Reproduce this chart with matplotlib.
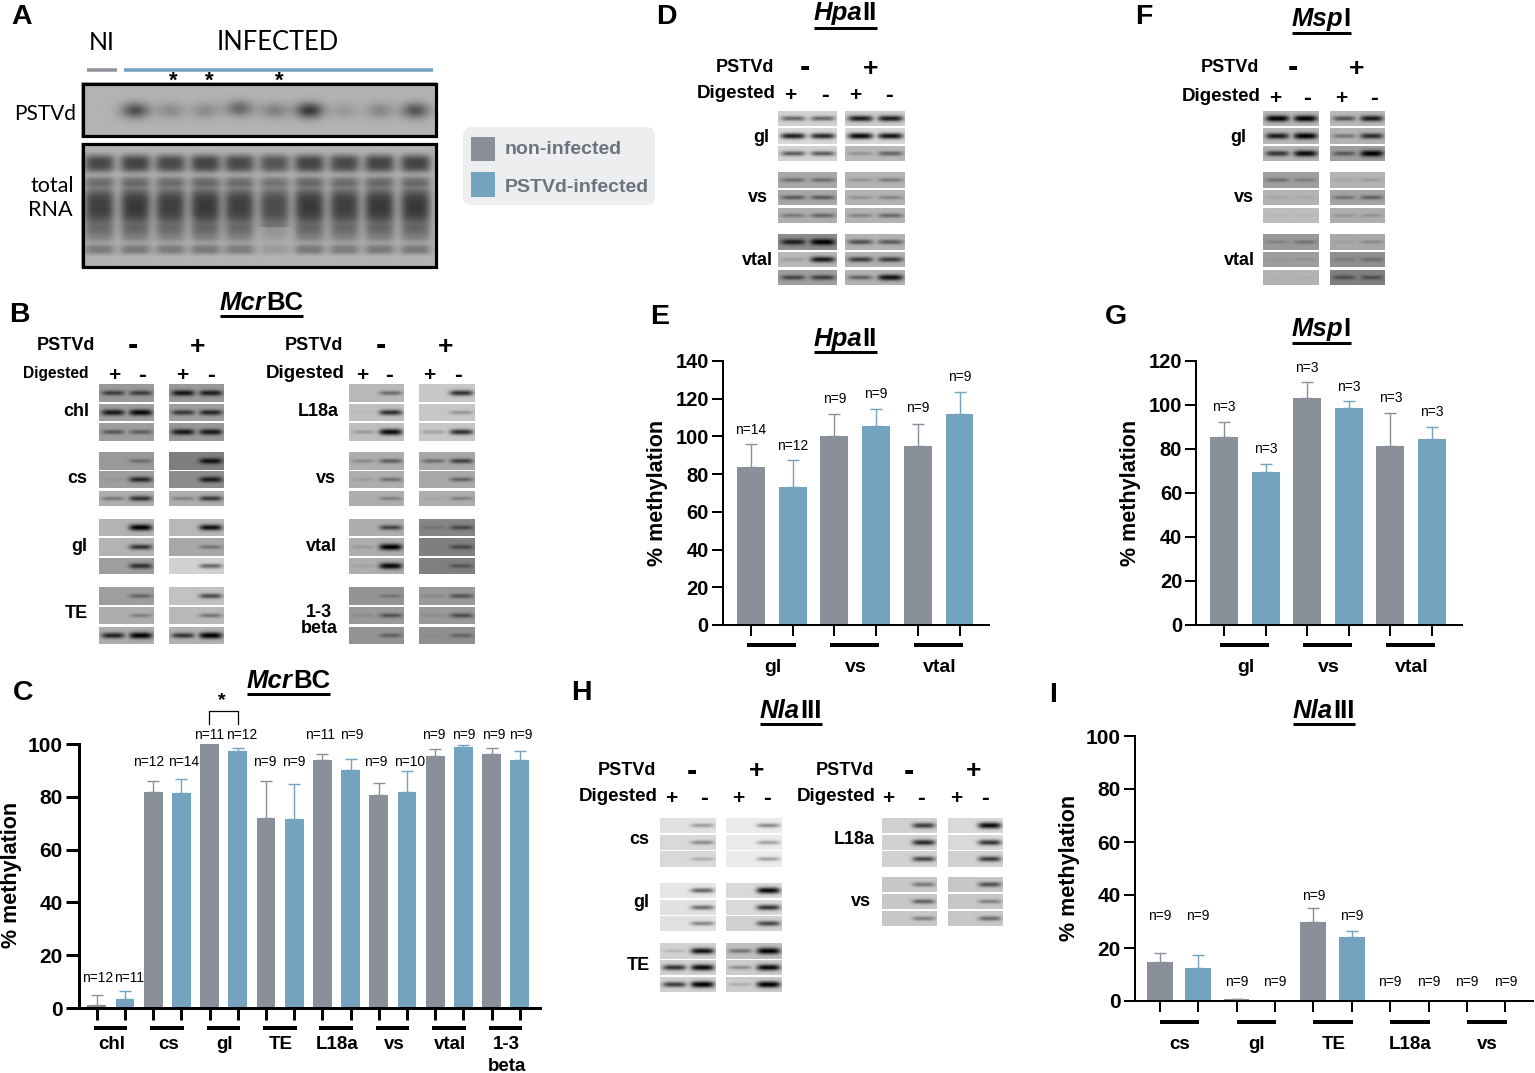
import numpy as np
import matplotlib
matplotlib.use("Agg")
import matplotlib.pyplot as plt
from matplotlib.patches import FancyBboxPatch, Rectangle

W, H = 1535, 1073
GREY = "#8a9099"
BLUE = "#73a3bf"
SANS = ["Liberation Sans", "DejaVu Sans"]
NARROW = ["Liberation Sans Narrow", "Liberation Sans", "DejaVu Sans"]

# --- bar panels: means, upper errors, n labels (height of label in data units)
c_groups = ["chl", "cs", "gl", "TE", "L18a", "vs", "vtal", "1-3\nbeta"]
c_grey = [1.2, 81.8, 100, 72, 93.8, 80.5, 95.5, 96.3]
c_blue = [3.5, 81.6, 97.2, 71.5, 90, 82, 99, 94]
c_grey_err = [3.8, 4, 0, 14, 2.4, 4.8, 2.5, 2.2]
c_blue_err = [3, 5.2, 1.3, 13.2, 4.2, 7.8, 0.8, 3.2]
c_n = ["n=12", "n=11", "n=12", "n=14", "n=11", "n=12", "n=9", "n=9",
       "n=11", "n=9", "n=9", "n=10", "n=9", "n=9", "n=9", "n=9"]
c_n_y = [11.3, 11.3, 93.3, 93.3, 103.4, 103.4, 93.3, 93.3,
         103.4, 103.4, 93.3, 93.3, 103.4, 103.4, 103.4, 103.4]
c_n_dx = [1, 4, -5, 2, -1, 4, -1, 0, -2, 1.5, -3, 3, -1, 0, 2, 0.5]

e_groups = ["gl", "vs", "vtal"]
e_grey = [84, 100, 95]
e_blue = [73, 105.3, 112]
e_grey_err = [12, 11.8, 11.7]
e_blue_err = [14.3, 9, 11.3]
e_n = ["n=14", "n=12", "n=9", "n=9", "n=9", "n=9"]
e_n_y = [103.4, 94.9, 119.8, 122.5, 115, 131.5]

g_groups = ["gl", "vs", "vtal"]
g_grey = [85.5, 103, 81.2]
g_blue = [69.5, 98.7, 84.5]
g_grey_err = [6.8, 7.5, 15.1]
g_blue_err = [3.8, 3.3, 5.7]
g_n = ["n=3"] * 6
g_n_y = [99, 79.9, 117, 108, 103, 96.7]

i_groups = ["cs", "gl", "TE", "L18a", "vs"]
i_grey = [14.8, 0.6, 30, 0, 0]
i_blue = [12.6, 0, 24, 0, 0]
i_grey_err = [3.2, 0, 5, 0, 0]
i_blue_err = [4.7, 0, 2.5, 0, 0]
i_n = ["n=9"] * 10
i_n_y = [32.2, 32.2, 7, 7, 39.7, 32.2, 7, 7, 7, 7]

# --- gel strips: each row is [background, band in "+" lane, band in "-" lane]
b_chl = [[[.60, .6, .6], [.62, .85, .95], [.62, .45, .4]], [[.6, .85, .8], [.62, .65, .75], [.6, .85, .85]]]
b_cs = [[[.60, 0, .3], [.62, .06, .75], [.68, .3, .7]], [[.5, .02, .85], [.55, 0, .8], [.68, .25, .65]]]
b_gl = [[[.70, 0, 1], [.70, 0, .7], [.62, 0, .7]], [[.72, 0, .9], [.66, 0, .3], [.82, 0, .5]]]
b_te = [[[.62, 0, .35], [.68, 0, .25], [.68, .8, 1]], [[.76, 0, .6], [.72, 0, .35], [.70, .7, 1]]]
b_l18a = [[[.72, 0, .4], [.75, .03, .75], [.75, .2, .95]], [[.78, 0, .75], [.78, 0, .25], [.78, .2, .75]]]
b_vs = [[[.68, .2, .45], [.68, .1, .35], [.68, 0, .25]], [[.66, .35, .6], [.66, 0, .4], [.68, .05, .25]]]
b_vtal = [[[.68, 0, .6], [.68, .12, 1], [.68, .07, .95]], [[.52, .15, .45], [.50, .03, .45], [.50, 0, .35]]]
b_beta = [[[.58, .03, .22], [.60, .1, .45], [.58, 0, .35]], [[.60, .12, .45], [.60, .1, .5], [.56, .03, .3]]]

d_gl = [[[.82, .5, .5], [.85, .85, .8], [.82, .55, .55]], [[.8, .85, .85], [.85, .95, .9], [.72, .2, .45]]]
d_vs = [[[.66, .35, .35], [.66, .45, .45], [.68, .3, .4]], [[.70, .18, .3], [.70, .18, .25], [.70, .25, .4]]]
d_vtal = [[[.55, .8, 1], [.72, .15, .85], [.62, .55, .6]], [[.70, .55, .5], [.70, .65, .65], [.70, .45, .9]]]

f_gl = [[[.72, 1, 1], [.72, .85, 1], [.70, .7, .95]], [[.72, .55, .85], [.70, .35, .75], [.62, .45, 1]]]
f_vs = [[[.62, .3, .2], [.70, .08, .06], [.74, .04, .04]], [[.70, .08, .12], [.64, .3, .4], [.68, .15, .15]]]
f_vtal = [[[.60, .15, .25], [.62, .06, .08], [.70, .02, .03]], [[.66, .06, .18], [.56, .15, .25], [.50, .4, .4]]]

h_cs = [[[.88, 0, .3], [.85, 0, .35], [.85, 0, .2]], [[.92, 0, .4], [.92, 0, .3], [.92, 0, .3]]]
h_gl = [[[.9, 0, .55], [.88, 0, .5], [.88, 0, .4]], [[.85, 0, .95], [.85, 0, .75], [.82, 0, .65]]]
h_te = [[[.82, .12, .9], [.82, .75, .95], [.82, .7, 1]], [[.75, .4, 1], [.8, .3, .95], [.8, .15, 1]]]
h_l18a = [[[.82, 0, .7], [.82, 0, .8], [.82, 0, .65]], [[.85, 0, .95], [.85, 0, .75], [.82, 0, .7]]]
h_vs = [[[.78, 0, .4], [.78, 0, .5], [.78, 0, .35]], [[.78, 0, .6], [.78, 0, .35], [.78, 0, .45]]]

# --- northern blot
lane_x = [99, 135, 170, 205, 239, 274, 309, 344, 379, 415]
pstvd_signal = [0, .55, .22, .22, .42, .28, .68, .14, .24, .52]
rna_load = [.95, 1, .95, 1, .95, .85, 1, .95, 1, 1]

canvas = np.ones((H, W))


def paint_strip(x0, x1, y0, y1, row):
    x0, x1, y0, y1 = int(round(x0)), int(round(x1)), int(round(y0)), int(round(y1))
    bg, plus, minus = row
    X, Y = np.meshgrid(np.arange(x0, x1), np.arange(y0, y1))
    w = x1 - x0
    ym = (y0 + y1) / 2 - 0.5
    dark = np.zeros_like(X, dtype=float)
    for frac, d in ((.25, plus), (.75, minus)):
        if d <= 0:
            continue
        sx = np.exp(-(((X - (x0 + frac * w)) / (0.21 * w)) ** 4))
        sy = np.exp(-(((Y - ym) / (1.6 + 1.6 * d)) ** 2))
        dark = np.maximum(dark, d * sx * sy)
    canvas[y0:y1, x0:x1] = bg * (1 - dark)


def paint_gel(blocks, rows, data):
    for (bx0, bx1), block in zip(blocks, data):
        for (ry0, ry1), row in zip(rows, block):
            paint_strip(bx0, bx1, ry0, ry1, row)


# panel B
b_left = [(98.7, 154), (169, 224)]
b_right = [(349, 404.3), (419.3, 474.7)]
b_r1 = [(384, 401.7), (403.7, 421), (423, 440.7)]
b_r2 = [(452.3, 470), (471, 488.3), (491, 506.3)]
b_r3 = [(518.7, 536), (538.3, 555.7), (558.3, 573.7)]
b_r4 = [(587, 605), (606.7, 624.3), (627, 644.3)]
for rows, l, r in ((b_r1, b_chl, b_l18a), (b_r2, b_cs, b_vs), (b_r3, b_gl, b_vtal), (b_r4, b_te, b_beta)):
    paint_gel(b_left, rows, l)
    paint_gel(b_right, rows, r)

# panels D and F
top_r1 = [(110.7, 126), (128.3, 143.7), (146, 161)]
top_r2 = [(172.3, 187.7), (190, 205.3), (208.3, 223.3)]
top_r3 = [(234.3, 250), (252, 267.3), (270, 285)]
d_blocks = [(777.8, 837), (845, 905)]
f_blocks = [(1263.4, 1318.6), (1329.6, 1384.8)]
for rows, d, f in ((top_r1, d_gl, f_gl), (top_r2, d_vs, f_vs), (top_r3, d_vtal, f_vtal)):
    paint_gel(d_blocks, rows, d)
    paint_gel(f_blocks, rows, f)

# panel H
h_left = [(660.3, 715.7), (726.3, 781.7)]
h_right = [(882, 937), (947.7, 1003)]
h_r1 = [(818, 833.3), (834.7, 850), (851.3, 866.7)]
h_r2 = [(883.3, 898.3), (900, 915), (916, 931)]
h_r3 = [(943.3, 958.7), (960, 975.3), (976.7, 992)]
h_r4 = [(876.7, 892), (893.7, 909), (910.7, 926)]
paint_gel(h_left, h_r1, h_cs)
paint_gel(h_left, h_r2, h_gl)
paint_gel(h_left, h_r3, h_te)
paint_gel(h_right, h_r1, h_l18a)
paint_gel(h_right, h_r4, h_vs)

# panel A blot
X, Y = np.meshgrid(np.arange(81, 437), np.arange(82, 138))
blot = np.full(X.shape, .70)
for lx, s in zip(lane_x, pstvd_signal):
    yc = 110 if lx != 239 else 108
    blot *= 1 - s * np.exp(-((X - lx) / 14.0) ** 2 - ((Y - yc) / 8.0) ** 2)
canvas[82:138, 81:437] = blot

X, Y = np.meshgrid(np.arange(81, 437), np.arange(143, 268))
rna_bands = [(163, 9, .62), (181, 5, .3), (206, 20, .68), (233, 9, .3), (249, 5, .32)]
dark = np.zeros(X.shape)
for lx, load in zip(lane_x, rna_load):
    env = np.exp(-(np.abs(X - lx) / 15.5) ** 4) * load
    prof = np.zeros(X.shape)
    for yc, hh, depth in rna_bands:
        prof += depth * np.exp(-(np.abs(Y - yc) / hh) ** 3)
    if lx == 274:
        prof *= 1 - .5 * (Y > 226)
    dark += env * prof
canvas[143:268, 81:437] = .70 * (1 - np.clip(dark, 0, .78))

fig = plt.figure(figsize=(W / 100, H / 100), dpi=100)
ov = fig.add_axes([0, 0, 1, 1])
ov.imshow(canvas, cmap="gray", vmin=0, vmax=1, extent=(0, W, H, 0), interpolation="nearest", aspect="auto")
ov.set_xlim(0, W)
ov.set_ylim(H, 0)
ov.axis("off")


def txt(x, y, s, size=11, weight="bold", family=SANS, ha="center", va="center", **kw):
    return ov.text(x, y + 1.5, s, fontsize=size, fontweight=weight, family=family, ha=ha, va=va, **kw)


def px_line(x0, x1, y0, y1, lw_px, color="black"):
    ov.plot([x0, x1], [y0, y1], color=color, lw=lw_px * .72, solid_capstyle="butt")


def title(x, base, ital, rest, under, size, family):
    t = ov.text(x, base, ital, fontsize=size, fontweight="bold", fontstyle="italic",
                family=family, ha="left", va="baseline")
    x1 = t.get_window_extent(fig.canvas.get_renderer()).x1
    t2 = ov.text(x1, base, rest, fontsize=size, fontweight="bold", family=family, ha="left", va="baseline")
    x2 = t2.get_window_extent(fig.canvas.get_renderer()).x1
    px_line(x, x2, under, under, 3)


def header(xr1, y1, xm, xp, xr2, y2, marks, size=13, size2=13.5):
    txt(xr1, y1, "PSTVd", size=size, ha="right")
    txt(xm, y1 + 1, "-", size=22)
    txt(xp, y1 + 1, "+", size=19)
    txt(xr2, y2, "Digested", size=size2, ha="right")
    for mx, m in zip(marks, "+-+-"):
        txt(mx, y2 + 2, m, size=15 if m == "+" else 17)


def bar_panel(left, right, top, bottom, first, step, ymax, yticks, groups, grey, blue, grey_err, blue_err,
              n_labels, n_y, sw, tick_y, tick_x, tick_size, line_y, line_off, label_y, label_size, n_dx=None):
    ax = fig.add_axes([left / W, 1 - bottom / H, (right - left) / W, (bottom - top) / H])
    ax.patch.set_alpha(0)
    ax.set_xlim((left - first) / step, (right - first) / step)
    ax.set_ylim(0, ymax)
    pos_g = np.arange(len(groups)) * 2
    pos_b = pos_g + 1
    for pos, vals, errs, col in ((pos_g, grey, grey_err, GREY), (pos_b, blue, blue_err, BLUE)):
        ax.bar(pos, vals, width=.67, color=col, edgecolor="none", zorder=2)
        ax.errorbar(pos, vals, yerr=[np.zeros(len(errs)), errs], fmt="none", ecolor=col,
                    elinewidth=1, capsize=4.5, capthick=1, zorder=1)
    all_pos = np.arange(len(groups) * 2)
    shifts = n_dx if n_dx is not None else [0] * len(all_pos)
    for p, s, yy, dx in zip(all_pos, n_labels, n_y, shifts):
        ax.text(p + dx / step, yy, s, ha="center", va="center", fontsize=10, family=SANS, clip_on=False)
    for side in ("top", "right"):
        ax.spines[side].set_visible(False)
    for side in ("left", "bottom"):
        ax.spines[side].set_linewidth(sw * .72)
    ax.set_yticks(yticks)
    ax.set_yticklabels([str(v) for v in yticks], fontsize=tick_size, fontweight="bold", family=SANS)
    ax.set_xticks(all_pos)
    ax.set_xticklabels([])
    ax.tick_params(axis="y", length=tick_y * .72, width=sw * .72, pad=2)
    ax.tick_params(axis="x", length=tick_x * .72, width=sw * .72)
    centers = first + all_pos * step
    for k, g in enumerate(groups):
        a, b = centers[2 * k], centers[2 * k + 1]
        px_line(a + line_off[0], b + line_off[1], line_y, line_y, 4)
        for j, part in enumerate(g.split("\n")):
            txt((a + b) / 2 + 1, label_y + j * 22, part, size=label_size)
    return ax


# panel A
LATO = ["Lato"] + SANS
txt(102, 41, "NI", size=18, weight="normal", family=LATO)
txt(278, 41, "INFECTED", size=18.4, weight="normal", family=LATO)
px_line(87, 117, 70, 70, 3.5, "#8f9299")
px_line(124, 432.6, 70, 70, 3.5, BLUE)
for sx in (173, 209, 279):
    txt(sx, 80, "*", size=16)
txt(76, 112, "PSTVd", size=15, weight="normal", family=LATO, ha="right")
txt(74, 184, "total", size=15.5, weight="normal", family=LATO, ha="right")
txt(72, 208, "RNA", size=15.5, weight="normal", family=LATO, ha="right")
for y0, y1 in ((82, 137.7), (142.7, 268)):
    ov.add_patch(Rectangle((82.5, y0 + 1.5), 353, y1 - y0 - 3, fill=False, ec="black", lw=2.3))
ov.add_patch(FancyBboxPatch((470, 134), 178, 64, boxstyle="round,pad=7,rounding_size=9", fc="#eceef0", ec="none"))
ov.add_patch(Rectangle((471.4, 137), 24, 24, fc=GREY, ec="none"))
ov.add_patch(Rectangle((471.4, 172), 24, 25, fc=BLUE, ec="none"))
txt(505, 148.5, "non-infected", size=14, color="#6e737b", ha="left")
txt(505, 185.5, "PSTVd-infected", size=14, color="#6e737b", ha="left")

# panel letters
for lx, ly, s in ((22, 15, "A"), (19, 314, "B"), (23, 692, "C"), (666, 15, "D"), (1144, 15, "F"),
                  (660, 316, "E"), (1116, 316, "G"), (581, 692, "H"), (1053, 693, "I")):
    txt(lx, ly, s, size=20.5)

# titles
title(220, 310, "Mcr", "BC", 316, 18.5, SANS)
title(247, 688, "Mcr", "BC", 694, 18.5, SANS)
title(814, 20, "Hpa", "II", 28, 18.5, NARROW)
title(1292, 26, "Msp", "I", 33, 18.5, NARROW)
title(813.6, 346, "Hpa", "II", 352, 18.5, NARROW)
title(1292, 336, "Msp", "I", 343, 18.5, NARROW)
title(760, 718, "Nla", "III", 724, 18.5, SANS)
title(1293, 718, "Nla", "III", 724, 18.5, SANS)

# gel headers
header(95, 344, 133, 198, 89, 372, (114, 142, 182, 211), size=13, size2=11.2)
header(343, 344, 381, 446, 345, 372, (362, 389, 429, 458))
header(774, 66, 805, 871, 776, 92, (790, 825, 855, 889))
header(1259, 66, 1293, 1357, 1261, 95, (1275, 1307, 1341, 1374))
header(656, 769, 692, 757, 658, 795, (671, 704, 738, 767))
header(874, 769, 909, 974, 876, 795, (888, 921, 956, 985))

# gene labels
for gx, gy, s in ((76, 410, "chl"), (77, 477, "cs"), (79, 545, "gl"), (76, 612, "TE"),
                  (318, 410, "L18a"), (326, 477, "vs"), (321, 545, "vtal"), (319, 611, "1-3"), (319, 627, "beta"),
                  (639, 838, "cs"), (641, 901, "gl"), (638, 964, "TE"), (854, 838, "L18a"), (861, 900, "vs"),
                  (761, 136, "gl"), (758, 196, "vs"), (757, 259, "vtal"),
                  (1238.5, 136, "gl"), (1244, 196, "vs"), (1239.5, 259, "vtal")):
    txt(gx, gy, s, size=13)

# bar charts
bar_panel(78.5, 540, 744, 1008, 96.8, 28.2, 100, [0, 20, 40, 60, 80, 100], c_groups, c_grey, c_blue,
          c_grey_err, c_blue_err, c_n, c_n_y, 3, 13, 12, 15, 1028, (-3, 2.4), 1043, 13.5, n_dx=c_n_dx)
bar_panel(722.6, 989, 361, 625, 751, 41.7, 140, [0, 20, 40, 60, 80, 100, 120, 140], e_groups, e_grey, e_blue,
          e_grey_err, e_blue_err, e_n, e_n_y, 2, 11, 11, 14.5, 644.7, (-4, 3), 665.7, 14)
bar_panel(1196, 1462, 361, 625, 1224, 41.6, 120, [0, 20, 40, 60, 80, 100, 120], g_groups, g_grey, g_blue,
          g_grey_err, g_blue_err, g_n, g_n_y, 2, 11, 11, 14.5, 644.7, (-4, 3), 665.7, 14)
bar_panel(1134.7, 1532.7, 736, 1001, 1159.7, 38.4, 100, [0, 20, 40, 60, 80, 100], i_groups, i_grey, i_blue,
          i_grey_err, i_blue_err, i_n, i_n_y, 2, 11, 11, 15, 1022, (0, 1.3), 1043, 13.5)

# y labels and significance bracket
for lx, ly in ((12, 873), (658, 491), (1130.6, 491), (1070, 866)):
    txt(lx, ly, "% methylation", size=15.5, rotation=90)
ov.plot([209.4, 209.4, 237.6, 237.6], [724, 711, 711, 724], color="black", lw=.9)
txt(221.5, 699, "*", size=14)

fig.savefig("out.png", dpi=100)
